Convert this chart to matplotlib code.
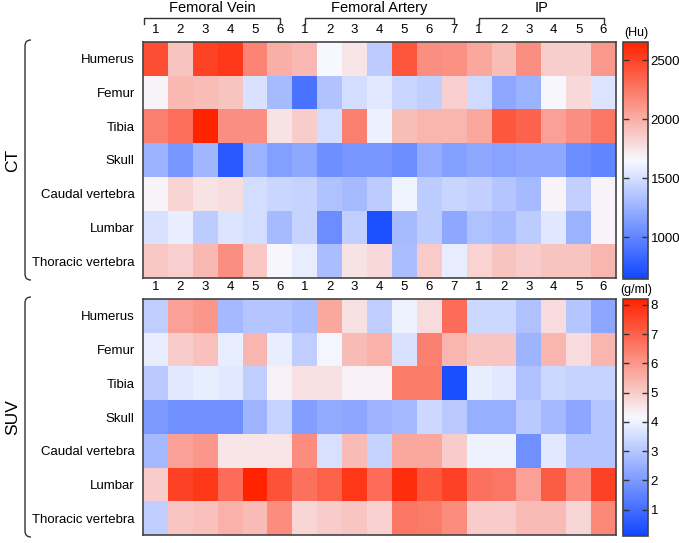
import numpy as np
import matplotlib
matplotlib.use("Agg")
import matplotlib.pyplot as plt
from matplotlib.colors import LinearSegmentedColormap
from matplotlib.patches import PathPatch
from matplotlib.path import Path

plt.rcParams['font.family'] = ['Liberation Sans', 'DejaVu Sans']

tissues = ["Humerus", "Femur", "Tibia", "Skull", "Caudal vertebra", "Lumbar", "Thoracic vertebra"]
groups = ["Femoral Vein", "Femoral Artery", "IP"]
group_sizes = [6, 7, 6]
col_labels = [str(i) for n in group_sizes for i in range(1, n + 1)]

ct_values = np.array([
    [2450, 1900, 2500, 2550, 2200, 2000, 1950, 1650, 1750, 1400, 2420, 2150, 2130, 2030, 1930, 2150, 1850, 1850, 2100],
    [1680, 1950, 1930, 1900, 1520, 1300, 900, 1350, 1500, 1560, 1460, 1420, 1840, 1480, 1200, 1250, 1660, 1800, 1540],
    [2220, 2300, 2650, 2150, 2150, 1760, 1860, 1500, 2220, 1610, 1930, 1960, 1960, 2030, 2400, 2350, 2060, 2150, 2260],
    [1250, 1100, 1280, 760, 1250, 1150, 1200, 1060, 1100, 1100, 1050, 1220, 1150, 1200, 1170, 1200, 1200, 1050, 1000],
    [1680, 1820, 1760, 1780, 1500, 1460, 1440, 1340, 1300, 1400, 1620, 1400, 1450, 1430, 1360, 1300, 1680, 1430, 1680],
    [1510, 1590, 1400, 1540, 1500, 1300, 1440, 1050, 1420, 700, 1300, 1400, 1200, 1340, 1300, 1400, 1550, 1250, 1680],
    [1880, 1840, 1950, 2150, 1880, 1660, 1580, 1320, 1760, 1800, 1320, 1870, 1580, 1830, 1900, 1860, 1900, 1900, 1960],
])

suv_values = np.array([
    [3.2, 5.8, 6.0, 2.7, 3.0, 3.0, 2.8, 5.7, 4.6, 3.2, 4.0, 4.7, 6.8, 3.4, 3.4, 2.9, 4.7, 3.0, 2.3],
    [3.9, 5.0, 5.2, 3.9, 5.4, 3.9, 3.2, 4.1, 5.3, 5.5, 3.6, 6.4, 5.4, 5.1, 5.1, 2.6, 5.4, 4.7, 5.4],
    [3.1, 3.8, 3.9, 3.8, 3.2, 4.3, 4.6, 4.6, 4.3, 4.3, 6.5, 6.5, 0.3, 3.9, 3.8, 2.9, 3.4, 3.3, 3.3],
    [2.0, 1.8, 1.8, 1.8, 2.6, 3.3, 2.1, 2.4, 2.3, 2.6, 2.7, 3.4, 3.1, 2.5, 2.5, 3.1, 2.7, 2.3, 3.0],
    [2.7, 5.8, 6.0, 4.5, 4.5, 4.5, 6.2, 3.6, 5.3, 3.3, 5.7, 5.7, 5.0, 4.0, 4.0, 1.8, 3.8, 3.0, 3.0],
    [5.0, 7.6, 7.8, 6.8, 8.2, 7.3, 6.7, 7.0, 7.8, 6.8, 8.0, 7.2, 7.6, 6.7, 6.6, 5.8, 7.1, 6.2, 7.6],
    [3.2, 5.1, 5.2, 5.5, 5.3, 6.2, 4.8, 5.0, 5.1, 4.9, 6.6, 6.5, 6.2, 5.0, 5.0, 5.3, 5.3, 4.8, 6.3],
])

ct_ticks = [1000, 1500, 2000, 2500]
suv_ticks = [1, 2, 3, 4, 5, 6, 7, 8]

cmap = LinearSegmentedColormap.from_list("bwr2", ["#1046ff", "#f7f9ff", "#ff2300"])

W, H = 679, 543
fig = plt.figure(figsize=(W / 100, H / 100), dpi=100)

def fx(px):
    return px / W

def fy(py):
    return 1 - py / H

edge = "#444444"

def heat(top, bottom, data, vmin, vmax, ticks, unit, label):
    ax = fig.add_axes([fx(143), fy(bottom), fx(616) - fx(143), fy(top) - fy(bottom)])
    im = ax.imshow(data, cmap=cmap, vmin=vmin, vmax=vmax, aspect='auto', interpolation='nearest')
    ax.set_yticks(range(len(tissues)))
    ax.set_yticklabels(tissues, fontsize=9.5)
    ax.set_xticks(range(len(col_labels)))
    ax.set_xticklabels(col_labels, fontsize=9.5)
    ax.xaxis.tick_top()
    ax.tick_params(length=0, pad=4)
    ax.tick_params(axis='y', pad=6)
    for s in ax.spines.values():
        s.set_color(edge)
        s.set_linewidth(1.2)
    cax = fig.add_axes([fx(623), fy(bottom + 1), fx(648) - fx(623), fy(top) - fy(bottom + 1)])
    cb = fig.colorbar(im, cax=cax, ticks=ticks)
    cb.outline.set_edgecolor(edge)
    cb.outline.set_linewidth(1.2)
    cax.tick_params(labelsize=9.5, length=4, width=1, direction='in', color='#333333',
                    left=True, right=True, pad=2)
    fig.text(fx(636), fy(top - 9), unit, ha='center', va='center', fontsize=9)
    # left bracket
    x0, x1 = fx(25), fx(31)
    yt, yb = fy(top - 2), fy(bottom + 2)
    dy = 6 / H
    verts = [(x1, yt), (x0, yt), (x0, yt - dy), (x0, yb + dy), (x0, yb), (x1, yb)]
    codes = [Path.MOVETO, Path.CURVE3, Path.CURVE3, Path.LINETO, Path.CURVE3, Path.CURVE3]
    fig.patches.append(PathPatch(Path(verts, codes), transform=fig.transFigure,
                                 fill=False, lw=1.0, edgecolor='#333333'))
    fig.text(fx(13), (yt + yb) / 2, label, rotation=90, ha='center', va='center', fontsize=12.5)
    return ax

ax_ct = heat(42, 278, ct_values, 645, 2656, ct_ticks, "(Hu)", "CT")
ax_suv = heat(299, 535, suv_values, 0.1, 8.2, suv_ticks, "(g/ml)", "SUV")

# group brackets above CT heatmap
start = 0
bracket_y = fy(18)
tick_y = fy(24)
for g, n in zip(groups, group_sizes):
    a = start - 0.45 if start == 0 else start
    b = start + n - 1
    xa = ax_ct.transData.transform((a, 0))[0] / fig.bbox.width
    xb = ax_ct.transData.transform((b, 0))[0] / fig.bbox.width
    fig.add_artist(plt.Line2D([xa, xa, xb, xb], [tick_y, bracket_y, bracket_y, tick_y],
                              transform=fig.transFigure, color='#333333', lw=1.0))
    fig.text((xa + xb) / 2, fy(8), g, ha='center', va='center', fontsize=10.5)
    start += n

fig.savefig("out.png", dpi=100)
